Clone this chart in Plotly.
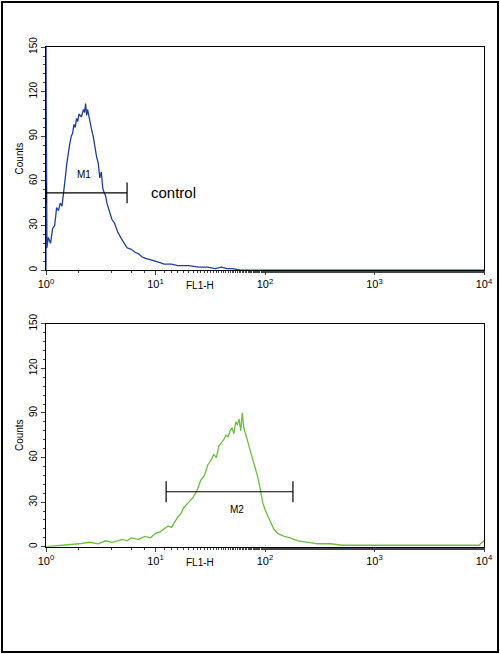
import plotly.graph_objects as go

top_x = [1.0, 1.001, 1.01, 1.02, 1.05, 1.1, 1.15, 1.2, 1.25, 1.3, 1.35, 1.4, 1.45, 1.5, 1.55, 1.6, 1.65, 1.7, 1.75, 1.8, 1.85, 1.9, 1.95, 2.0, 2.1, 2.2, 2.25, 2.3, 2.35, 2.4, 2.5, 2.6, 2.7, 2.8, 2.9, 3.0, 3.1, 3.2, 3.3, 3.4, 3.5, 3.6, 3.8, 4.0, 4.2, 4.5, 4.8, 5.0, 5.5, 6.0, 6.5, 7.0, 7.5, 8.0, 9.0, 10, 11, 12, 14, 16, 18, 20, 25, 30, 35, 40, 45, 50, 60, 100, 1000, 10000]
top_y = [0, 150, 80, 15, 22, 18, 28, 30, 42, 40, 45, 43, 55, 62, 72, 80, 85, 90, 92, 98, 96, 102, 100, 105, 103, 108, 106, 112, 104, 108, 100, 95, 90, 82, 76, 72, 62, 66, 55, 52, 50, 45, 40, 34, 32, 26, 22, 20, 15, 14, 12, 11, 9, 8, 7, 6, 5, 4, 4, 3, 3, 3, 2, 2, 1, 2, 1, 1, 0, 0, 0, 0]

bot_x = [1.0, 1.5, 2.0, 2.5, 3.0, 3.5, 4.0, 4.5, 5.0, 5.5, 6.0, 7.0, 8.0, 9.0, 10, 11, 12, 13, 14, 15, 16, 17, 18, 19, 20, 22, 24, 26, 28, 30, 32, 34, 36, 38, 40, 42, 44, 46, 48, 50, 52, 54, 56, 58, 60, 62, 64, 66, 70, 75, 80, 85, 90, 95, 100, 110, 120, 130, 150, 170, 200, 250, 300, 400, 500, 700, 1000, 2000, 5000, 9000, 10000]
bot_y = [0, 1, 2, 3, 2, 4, 3, 4, 5, 4, 6, 5, 7, 6, 9, 10, 12, 14, 13, 17, 20, 22, 26, 28, 30, 33, 38, 45, 48, 55, 58, 62, 60, 68, 70, 72, 75, 74, 78, 80, 76, 84, 82, 86, 78, 90, 80, 76, 70, 62, 55, 48, 40, 30, 25, 18, 12, 9, 7, 6, 4, 3, 2, 2, 1, 1, 1, 1, 1, 1, 4]

xticks = [1, 10, 100, 1000, 10000]
xticklabels = ["10<sup>0</sup>", "10<sup>1</sup>", "10<sup>2</sup>", "10<sup>3</sup>", "10<sup>4</sup>"]
yticks = [0, 30, 60, 90, 120, 150]

m1 = [1.0, 5.5, 52]
m2 = [12.5, 180, 37]

fig = go.Figure()
fig.add_trace(go.Scatter(x=top_x, y=top_y, mode="lines", line=dict(color="#1f3f9f", width=1.3), xaxis="x", yaxis="y", cliponaxis=False))
fig.add_trace(go.Scatter(x=bot_x, y=bot_y, mode="lines", line=dict(color="#6abf3c", width=1.3), xaxis="x2", yaxis="y2"))
for m, xa, ya in [(m1, "x", "y"), (m2, "x2", "y2")]:
    fig.add_trace(go.Scatter(x=[m[0], m[1], None, m[0], m[0], None, m[1], m[1]],
                             y=[m[2], m[2], None, m[2]-7, m[2]+7, None, m[2]-7, m[2]+7],
                             mode="lines", line=dict(color="black", width=1.2), xaxis=xa, yaxis=ya, cliponaxis=False))

font = dict(family="Liberation Sans, Arial", size=10, color="black")
def xa(anchor, dom):
    return dict(type="log", range=[0, 4], domain=dom, anchor=anchor, tickvals=xticks, ticktext=xticklabels,
                showline=True, linecolor="black", linewidth=1, mirror=True, ticks="outside", ticklen=4,
                minor=dict(ticks="outside", ticklen=2, showgrid=False), showgrid=False, zeroline=False,
                tickfont=dict(family="Liberation Sans, Arial", size=11, color="black"))
def ya(anchor, dom):
    return dict(range=[0, 150], domain=dom, anchor=anchor, tickvals=yticks, tickangle=-90,
                showline=True, linecolor="black", linewidth=1, mirror=True, ticks="outside", ticklen=4,
                minor=dict(ticks="outside", ticklen=2, dtick=6), showgrid=False, zeroline=False,
                tickfont=font, title=dict(text="Counts", font=font, standoff=2))

fig.update_layout(
    width=500, height=654, margin=dict(l=0, r=0, t=0, b=0, autoexpand=False), showlegend=False,
    plot_bgcolor="white", paper_bgcolor="white",
    xaxis=xa("y", [0.092, 0.968]), yaxis=ya("x", [0.587, 0.928]),
    xaxis2=xa("y2", [0.092, 0.968]), yaxis2=ya("x2", [0.164, 0.505]),
    annotations=[
        dict(x=0.35, y=64, xref="x", yref="y", text="M1", showarrow=False, font=font),
        dict(x=0.94, y=52, xref="x", yref="y", text="control", showarrow=False, xanchor="left", font=dict(family="Liberation Sans, Arial", size=15, color="black")),
        dict(x=1.74, y=25, xref="x2", yref="y2", text="M2", showarrow=False, font=font),
        dict(x=0.4, y=0.575, xref="paper", yref="paper", text="FL1-H", showarrow=False, font=font, yanchor="top"),
        dict(x=0.4, y=0.152, xref="paper", yref="paper", text="FL1-H", showarrow=False, font=font, yanchor="top"),
    ],
    shapes=[dict(type="rect", xref="paper", yref="paper", x0=0.004, x1=0.996, y0=0.003, y1=0.997, line=dict(color="black", width=2))]
)
fig.write_html("out.html", config={"displayModeBar": False}, post_script="document.body.style.margin='0';")
